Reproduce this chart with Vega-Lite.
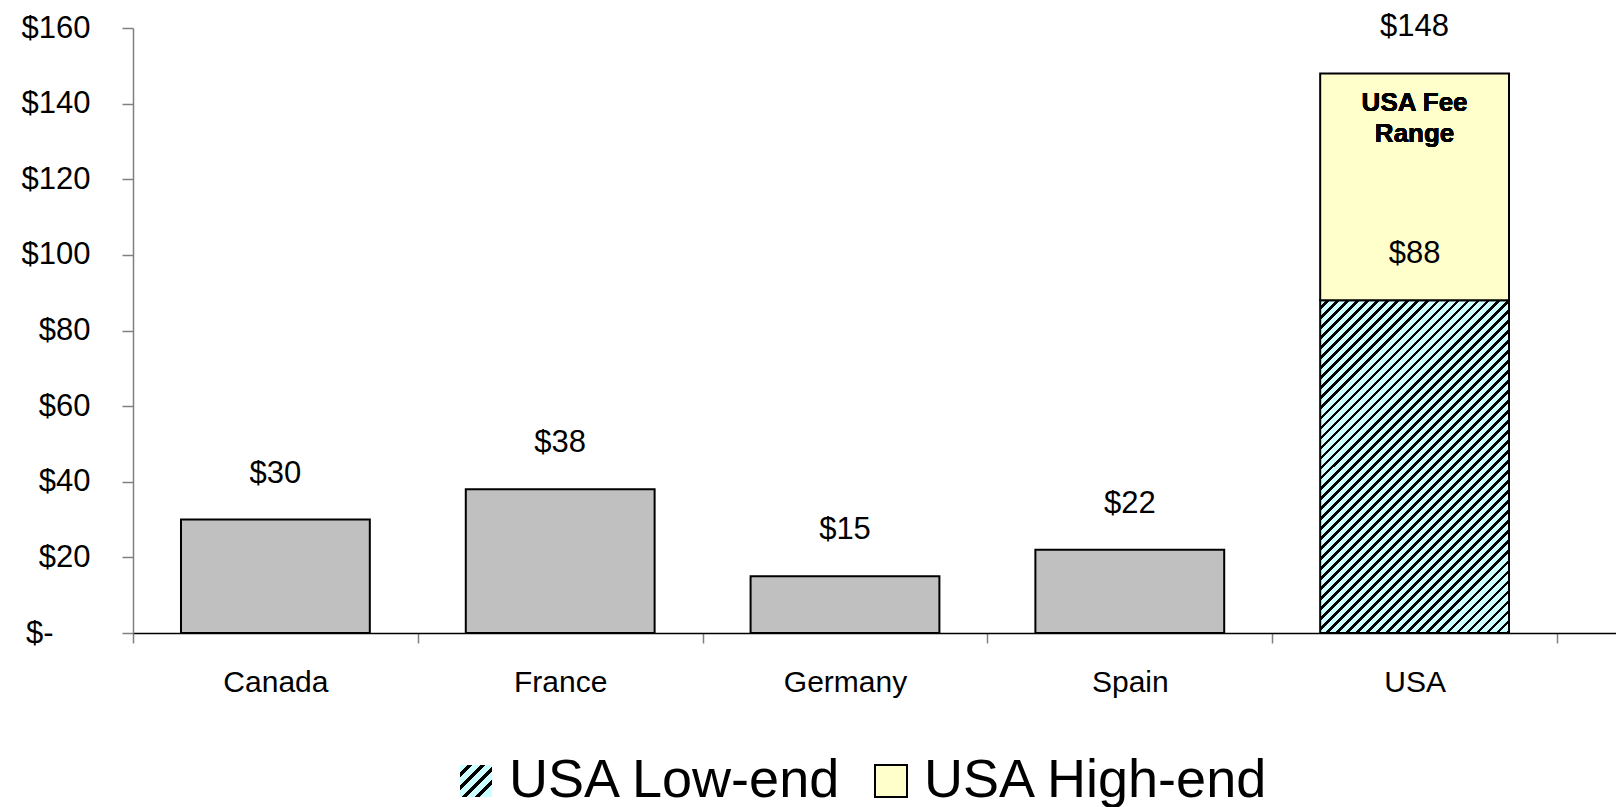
{
  "$schema": "https://vega.github.io/schema/vega-lite/v6.json",
  "autosize": {"type": "none"},
  "width": 1483,
  "height": 605,
  "padding": {"left": 133, "top": 28, "right": 0, "bottom": 174},
  "background": "white",
  "config": {
    "view": {"stroke": null},
    "font": "Liberation Sans",
    "text": {"font": "Liberation Sans"}
  },
  "data": {
    "values": [
      {"country": "Canada", "start": 0, "end": 30, "series": "Other"},
      {"country": "France", "start": 0, "end": 38, "series": "Other"},
      {"country": "Germany", "start": 0, "end": 15, "series": "Other"},
      {"country": "Spain", "start": 0, "end": 22, "series": "Other"},
      {"country": "USA", "start": 0, "end": 88, "series": "USA Low-end"},
      {"country": "USA", "start": 88, "end": 148, "series": "USA High-end"}
    ]
  },
  "encoding": {
    "x": {
      "field": "country",
      "type": "nominal",
      "sort": ["Canada", "France", "Germany", "Spain", "USA"],
      "scale": {"domain": ["Canada", "France", "Germany", "Spain", "USA"], "paddingInner": 0, "paddingOuter": 0.1036, "align": 0},
      "axis": {
        "title": null,
        "labelAngle": 0,
        "labelFont": "Liberation Sans",
        "labelFontSize": 30,
        "labelColor": "#000000",
        "labelPadding": 24,
        "tickBand": "extent",
        "tickSize": 10,
        "tickColor": "#808080",
        "tickWidth": 1.5,
        "domainColor": "#000000",
        "domainWidth": 1.5,
        "grid": false
      }
    }
  },
  "layer": [
    {
      "transform": [{"filter": "datum.series === 'Other'"}],
      "mark": {"type": "bar", "width": {"band": 0.663}, "fill": "#C0C0C0", "stroke": "#000000", "strokeWidth": 2},
      "encoding": {
        "y": {
          "field": "end",
          "type": "quantitative",
          "scale": {"domain": [0, 160], "nice": false, "zero": true},
          "axis": {
            "title": null,
            "values": [0, 20, 40, 60, 80, 100, 120, 140, 160],
            "labelExpr": "datum.value == 0 ? '$-' : '$' + datum.value",
            "labelFont": "Liberation Sans",
            "labelFontSize": 31,
            "labelColor": "#000000",
            "labelPadding": {"condition": {"test": "datum.value == 0", "value": 69}, "value": 32},
            "tickSize": 11,
            "tickColor": "#808080",
            "tickWidth": 1.5,
            "domainColor": "#808080",
            "domainWidth": 1.5,
            "grid": false
          }
        },
        "y2": {"field": "start"}
      }
    },
    {
      "transform": [{"filter": "datum.series === 'USA Low-end'"}],
      "mark": {
        "type": "bar",
        "width": {"band": 0.663},
        "stroke": "#000000",
        "strokeWidth": 2,
        "fill": {
          "gradient": "linear",
          "x1": 0, "y1": 0, "x2": 0.6728, "y2": 1.1857,
          "stops": [
            {"offset":0,"color":"#cff"},{"offset":0.0119,"color":"#cff"},{"offset":0.0119,"color":"#000"},{"offset":0.0192,"color":"#000"},
            {"offset":0.0192,"color":"#cff"},{"offset":0.0312,"color":"#cff"},{"offset":0.0312,"color":"#000"},{"offset":0.0385,"color":"#000"},
            {"offset":0.0385,"color":"#cff"},{"offset":0.0505,"color":"#cff"},{"offset":0.0505,"color":"#000"},{"offset":0.0577,"color":"#000"},
            {"offset":0.0577,"color":"#cff"},{"offset":0.0696,"color":"#cff"},{"offset":0.0696,"color":"#000"},{"offset":0.0769,"color":"#000"},
            {"offset":0.0769,"color":"#cff"},{"offset":0.0888,"color":"#cff"},{"offset":0.0888,"color":"#000"},{"offset":0.0962,"color":"#000"},
            {"offset":0.0962,"color":"#cff"},{"offset":0.1081,"color":"#cff"},{"offset":0.1081,"color":"#000"},{"offset":0.1154,"color":"#000"},
            {"offset":0.1154,"color":"#cff"},{"offset":0.1273,"color":"#cff"},{"offset":0.1273,"color":"#000"},{"offset":0.1346,"color":"#000"},
            {"offset":0.1346,"color":"#cff"},{"offset":0.1465,"color":"#cff"},{"offset":0.1465,"color":"#000"},{"offset":0.1538,"color":"#000"},
            {"offset":0.1538,"color":"#cff"},{"offset":0.1658,"color":"#cff"},{"offset":0.1658,"color":"#000"},{"offset":0.1731,"color":"#000"},
            {"offset":0.1731,"color":"#cff"},{"offset":0.1850,"color":"#cff"},{"offset":0.1850,"color":"#000"},{"offset":0.1923,"color":"#000"},
            {"offset":0.1923,"color":"#cff"},{"offset":0.2042,"color":"#cff"},{"offset":0.2042,"color":"#000"},{"offset":0.2115,"color":"#000"},
            {"offset":0.2115,"color":"#cff"},{"offset":0.2235,"color":"#cff"},{"offset":0.2235,"color":"#000"},{"offset":0.2308,"color":"#000"},
            {"offset":0.2308,"color":"#cff"},{"offset":0.2427,"color":"#cff"},{"offset":0.2427,"color":"#000"},{"offset":0.2500,"color":"#000"},
            {"offset":0.2500,"color":"#cff"},{"offset":0.2619,"color":"#cff"},{"offset":0.2619,"color":"#000"},{"offset":0.2692,"color":"#000"},
            {"offset":0.2692,"color":"#cff"},{"offset":0.2812,"color":"#cff"},{"offset":0.2812,"color":"#000"},{"offset":0.2885,"color":"#000"},
            {"offset":0.2885,"color":"#cff"},{"offset":0.3004,"color":"#cff"},{"offset":0.3004,"color":"#000"},{"offset":0.3077,"color":"#000"},
            {"offset":0.3077,"color":"#cff"},{"offset":0.3196,"color":"#cff"},{"offset":0.3196,"color":"#000"},{"offset":0.3269,"color":"#000"},
            {"offset":0.3269,"color":"#cff"},{"offset":0.3388,"color":"#cff"},{"offset":0.3388,"color":"#000"},{"offset":0.3462,"color":"#000"},
            {"offset":0.3462,"color":"#cff"},{"offset":0.3581,"color":"#cff"},{"offset":0.3581,"color":"#000"},{"offset":0.3654,"color":"#000"},
            {"offset":0.3654,"color":"#cff"},{"offset":0.3773,"color":"#cff"},{"offset":0.3773,"color":"#000"},{"offset":0.3846,"color":"#000"},
            {"offset":0.3846,"color":"#cff"},{"offset":0.3965,"color":"#cff"},{"offset":0.3965,"color":"#000"},{"offset":0.4038,"color":"#000"},
            {"offset":0.4038,"color":"#cff"},{"offset":0.4158,"color":"#cff"},{"offset":0.4158,"color":"#000"},{"offset":0.4231,"color":"#000"},
            {"offset":0.4231,"color":"#cff"},{"offset":0.4350,"color":"#cff"},{"offset":0.4350,"color":"#000"},{"offset":0.4423,"color":"#000"},
            {"offset":0.4423,"color":"#cff"},{"offset":0.4542,"color":"#cff"},{"offset":0.4542,"color":"#000"},{"offset":0.4615,"color":"#000"},
            {"offset":0.4615,"color":"#cff"},{"offset":0.4735,"color":"#cff"},{"offset":0.4735,"color":"#000"},{"offset":0.4808,"color":"#000"},
            {"offset":0.4808,"color":"#cff"},{"offset":0.4927,"color":"#cff"},{"offset":0.4927,"color":"#000"},{"offset":0.5000,"color":"#000"},
            {"offset":0.5000,"color":"#cff"},{"offset":0.5119,"color":"#cff"},{"offset":0.5119,"color":"#000"},{"offset":0.5192,"color":"#000"},
            {"offset":0.5192,"color":"#cff"},{"offset":0.5312,"color":"#cff"},{"offset":0.5312,"color":"#000"},{"offset":0.5385,"color":"#000"},
            {"offset":0.5385,"color":"#cff"},{"offset":0.5504,"color":"#cff"},{"offset":0.5504,"color":"#000"},{"offset":0.5577,"color":"#000"},
            {"offset":0.5577,"color":"#cff"},{"offset":0.5696,"color":"#cff"},{"offset":0.5696,"color":"#000"},{"offset":0.5769,"color":"#000"},
            {"offset":0.5769,"color":"#cff"},{"offset":0.5888,"color":"#cff"},{"offset":0.5888,"color":"#000"},{"offset":0.5962,"color":"#000"},
            {"offset":0.5962,"color":"#cff"},{"offset":0.6081,"color":"#cff"},{"offset":0.6081,"color":"#000"},{"offset":0.6154,"color":"#000"},
            {"offset":0.6154,"color":"#cff"},{"offset":0.6273,"color":"#cff"},{"offset":0.6273,"color":"#000"},{"offset":0.6346,"color":"#000"},
            {"offset":0.6346,"color":"#cff"},{"offset":0.6465,"color":"#cff"},{"offset":0.6465,"color":"#000"},{"offset":0.6538,"color":"#000"},
            {"offset":0.6538,"color":"#cff"},{"offset":0.6658,"color":"#cff"},{"offset":0.6658,"color":"#000"},{"offset":0.6731,"color":"#000"},
            {"offset":0.6731,"color":"#cff"},{"offset":0.6850,"color":"#cff"},{"offset":0.6850,"color":"#000"},{"offset":0.6923,"color":"#000"},
            {"offset":0.6923,"color":"#cff"},{"offset":0.7042,"color":"#cff"},{"offset":0.7042,"color":"#000"},{"offset":0.7115,"color":"#000"},
            {"offset":0.7115,"color":"#cff"},{"offset":0.7235,"color":"#cff"},{"offset":0.7235,"color":"#000"},{"offset":0.7308,"color":"#000"},
            {"offset":0.7308,"color":"#cff"},{"offset":0.7427,"color":"#cff"},{"offset":0.7427,"color":"#000"},{"offset":0.7500,"color":"#000"},
            {"offset":0.7500,"color":"#cff"},{"offset":0.7619,"color":"#cff"},{"offset":0.7619,"color":"#000"},{"offset":0.7692,"color":"#000"},
            {"offset":0.7692,"color":"#cff"},{"offset":0.7812,"color":"#cff"},{"offset":0.7812,"color":"#000"},{"offset":0.7885,"color":"#000"},
            {"offset":0.7885,"color":"#cff"},{"offset":0.8004,"color":"#cff"},{"offset":0.8004,"color":"#000"},{"offset":0.8077,"color":"#000"},
            {"offset":0.8077,"color":"#cff"},{"offset":0.8196,"color":"#cff"},{"offset":0.8196,"color":"#000"},{"offset":0.8269,"color":"#000"},
            {"offset":0.8269,"color":"#cff"},{"offset":0.8388,"color":"#cff"},{"offset":0.8388,"color":"#000"},{"offset":0.8462,"color":"#000"},
            {"offset":0.8462,"color":"#cff"},{"offset":0.8581,"color":"#cff"},{"offset":0.8581,"color":"#000"},{"offset":0.8654,"color":"#000"},
            {"offset":0.8654,"color":"#cff"},{"offset":0.8773,"color":"#cff"},{"offset":0.8773,"color":"#000"},{"offset":0.8846,"color":"#000"},
            {"offset":0.8846,"color":"#cff"},{"offset":0.8965,"color":"#cff"},{"offset":0.8965,"color":"#000"},{"offset":0.9038,"color":"#000"},
            {"offset":0.9038,"color":"#cff"},{"offset":0.9158,"color":"#cff"},{"offset":0.9158,"color":"#000"},{"offset":0.9231,"color":"#000"},
            {"offset":0.9231,"color":"#cff"},{"offset":0.9350,"color":"#cff"},{"offset":0.9350,"color":"#000"},{"offset":0.9423,"color":"#000"},
            {"offset":0.9423,"color":"#cff"},{"offset":0.9542,"color":"#cff"},{"offset":0.9542,"color":"#000"},{"offset":0.9615,"color":"#000"},
            {"offset":0.9615,"color":"#cff"},{"offset":0.9735,"color":"#cff"},{"offset":0.9735,"color":"#000"},{"offset":0.9808,"color":"#000"},
            {"offset":0.9808,"color":"#cff"},{"offset":0.9927,"color":"#cff"},{"offset":0.9927,"color":"#000"},{"offset":1,"color":"#000"}
          ]
        }
      },
      "encoding": {
        "y": {"field": "end", "type": "quantitative"},
        "y2": {"field": "start"}
      }
    },
    {
      "transform": [{"filter": "datum.series === 'USA Low-end'"}],
      "mark": {
        "type": "bar",
        "width": {"band": 0.663},
        "stroke": "#000000",
        "strokeWidth": 2,
        "fill": {
          "gradient": "linear",
          "x1": 0, "y1": 0, "x2": 1, "y2": 1,
          "stops": [
            {"offset":0,"color":"#cff"},{"offset":0.12,"color":"#cff"},{"offset":0.12,"color":"#000"},{"offset":0.2,"color":"#000"},
            {"offset":0.2,"color":"#cff"},{"offset":0.32,"color":"#cff"},{"offset":0.32,"color":"#000"},{"offset":0.4,"color":"#000"},
            {"offset":0.4,"color":"#cff"},{"offset":0.52,"color":"#cff"},{"offset":0.52,"color":"#000"},{"offset":0.6,"color":"#000"},
            {"offset":0.6,"color":"#cff"},{"offset":0.72,"color":"#cff"},{"offset":0.72,"color":"#000"},{"offset":0.8,"color":"#000"},
            {"offset":0.8,"color":"#cff"},{"offset":1,"color":"#cff"}
          ]
        }
      },
      "encoding": {
        "y": {"datum": 0},
        "y2": {"datum": 0},
        "strokeDash": {
          "field": "series",
          "type": "nominal",
          "scale": {"domain": ["USA Low-end"], "range": [[1, 0]]},
          "legend": {
            "title": null,
            "orient": "none",
            "legendX": 316,
            "legendY": 726,
            "direction": "horizontal",
            "padding": 0,
            "labelFont": "Liberation Sans",
            "labelFontSize": 54,
            "labelColor": "#000000",
            "labelLimit": 500,
            "labelOffset": 6,
            "symbolType": "square",
            "symbolSize": 1024,
            "symbolStrokeColor": "#000000",
            "symbolStrokeWidth": 2,
            "symbolOpacity": 1
          }
        }
      }
    },
    {
      "transform": [{"filter": "datum.series === 'USA High-end'"}],
      "mark": {"type": "bar", "width": {"band": 0.663}, "stroke": "#000000", "strokeWidth": 2, "opacity": 1},
      "encoding": {
        "y": {"field": "end", "type": "quantitative"},
        "y2": {"field": "start"},
        "color": {
          "field": "series",
          "type": "nominal",
          "scale": {"domain": ["USA High-end"], "range": ["#FFFFCC"]},
          "legend": {
            "title": null,
            "orient": "none",
            "legendX": 731,
            "legendY": 726,
            "direction": "horizontal",
            "padding": 0,
            "labelFont": "Liberation Sans",
            "labelFontSize": 54,
            "labelColor": "#000000",
            "labelLimit": 500,
            "labelOffset": 6,
            "symbolType": "square",
            "symbolSize": 1024,
            "symbolStrokeColor": "#000000",
            "symbolStrokeWidth": 2,
            "symbolOpacity": 1
          }
        }
      }
    },
    {
      "mark": {"type": "text", "font": "Liberation Sans", "fontSize": 31, "color": "#000000", "baseline": "middle", "dy": -46},
      "encoding": {
        "y": {"field": "end", "type": "quantitative"},
        "text": {"field": "end", "type": "quantitative", "format": "$.0f"}
      }
    },
    {
      "mark": {"type": "text", "text": ["USA Fee", "Range"], "font": "Liberation Sans", "fontWeight": "bold", "fontSize": 26, "lineHeight": 31, "color": "#000000", "baseline": "middle"},
      "encoding": {
        "x": {"datum": "USA"},
        "y": {"datum": 140.2}
      }
    }
  ]
}
